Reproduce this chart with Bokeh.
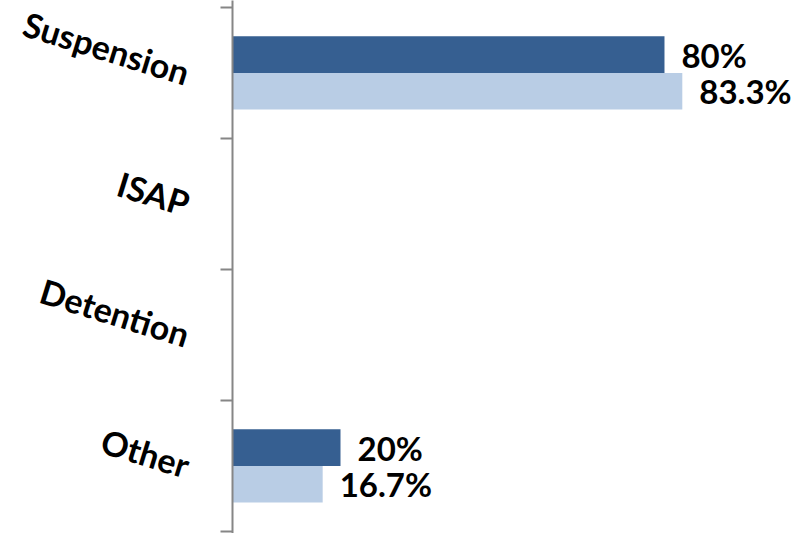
import math
from bokeh.plotting import figure
from bokeh.models import Range1d, LinearAxis, FixedTicker, ColumnDataSource
from bokeh.core.properties import value
from bokeh.embed import file_html
from bokeh.resources import INLINE

categories = ["Suspension", "ISAP", "Detention", "Other"]
series_dark = [80.0, None, None, 20.0]
series_light = [83.3, None, None, 16.7]
dark_labels = ["80%", "", "", "20%"]
light_labels = ["83.3%", "", "", "16.7%"]

DARK = "#365F91"
LIGHT = "#B9CDE5"
AXIS = "#868686"

n = len(categories)
centers = [n - i - 0.5 for i in range(n)]
bounds = [float(i) for i in range(n + 1)]
bar_h = 0.28

def nan(v):
    return float("nan") if v is None else v

src_dark = ColumnDataSource(dict(
    y=[c + bar_h / 2 for c in centers],
    v=[nan(v) for v in series_dark],
    t=dark_labels,
))
src_light = ColumnDataSource(dict(
    y=[c - bar_h / 2 for c in centers],
    v=[nan(v) for v in series_light],
    t=light_labels,
))

p = figure(width=806, height=533,
           x_range=Range1d(0, 106.3), y_range=Range1d(-0.016, 4.053),
           x_axis_location=None, y_axis_location=None,
           output_backend="svg", toolbar_location=None,
           min_border_left=232, min_border_right=0,
           min_border_top=0, min_border_bottom=0)
p.outline_line_color = None
p.xgrid.visible = False
p.ygrid.visible = False
p.background_fill_color = "white"
p.border_fill_color = "white"

p.hbar(y="y", left=0, right="v", height=bar_h, source=src_dark,
       fill_color=DARK, line_color=None)
p.hbar(y="y", left=0, right="v", height=bar_h, source=src_light,
       fill_color=LIGHT, line_color=None)

for src in (src_dark, src_light):
    p.text(x="v", y="y", text="t", source=src, x_offset=17,
           text_align="left", text_baseline="middle",
           text_font=value("Lato"), text_font_style="bold",
           text_font_size="33px", text_color="black")

yaxis = LinearAxis(
    ticker=FixedTicker(ticks=centers, minor_ticks=bounds),
    major_label_overrides={c: name for c, name in zip(centers, categories)},
)
yaxis.major_tick_line_color = None
yaxis.major_tick_out = 0
yaxis.major_tick_in = 0
yaxis.minor_tick_line_color = AXIS
yaxis.minor_tick_line_width = 2
yaxis.minor_tick_out = 12
yaxis.minor_tick_in = 0
yaxis.axis_line_color = AXIS
yaxis.axis_line_width = 2
yaxis.major_label_orientation = -0.30
yaxis.major_label_standoff = 32
yaxis.major_label_text_font = "Lato"
yaxis.major_label_text_font_style = "bold"
yaxis.major_label_text_font_size = "34px"
yaxis.major_label_text_color = "black"
p.add_layout(yaxis, "left")

open("out.html", "w").write(file_html(p, INLINE))
